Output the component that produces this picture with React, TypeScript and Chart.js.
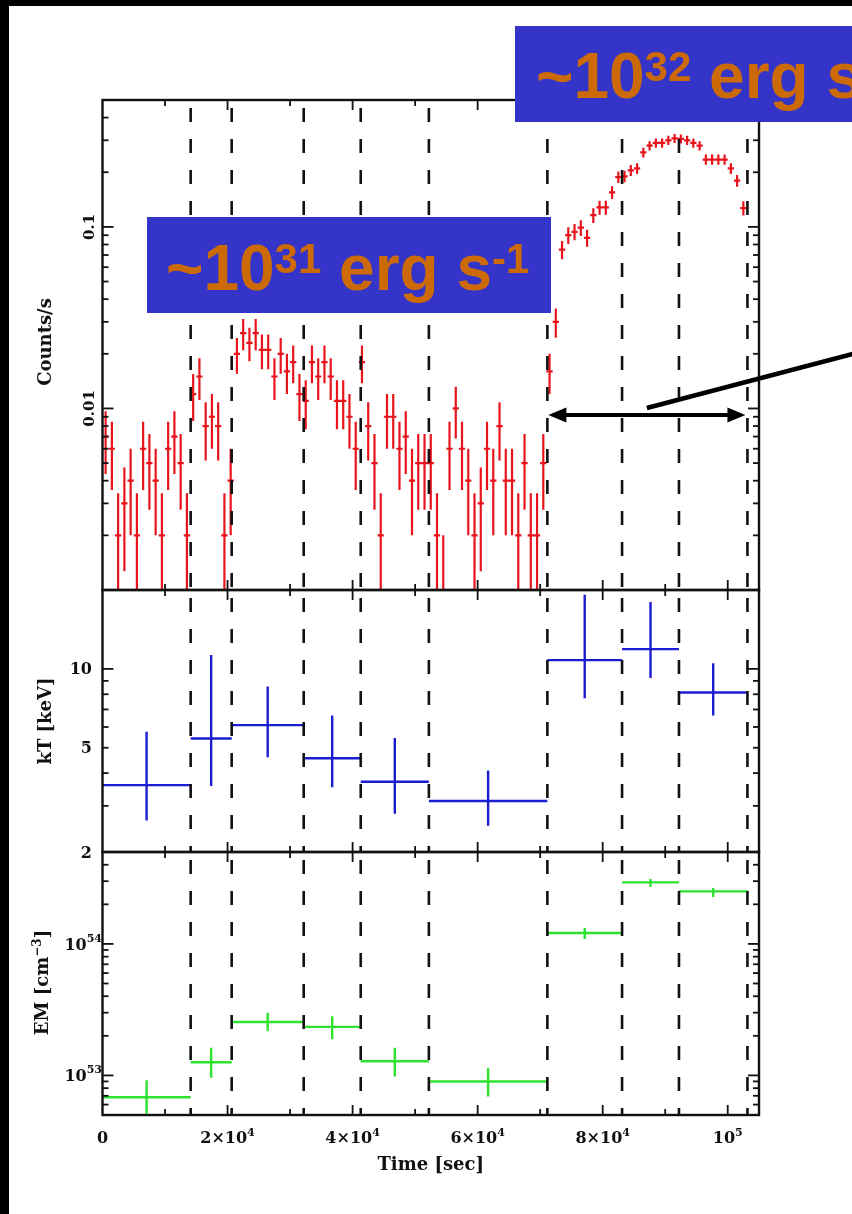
import React, { useEffect, useRef } from 'react';
import { Chart, registerables } from 'chart.js';

Chart.register(...registerables);

// ---------------- data ----------------
const binWidth = 1000; // s, light-curve bin
// counts per 1000 s bin (rate = counts / binWidth)
const lcCounts = [
  7, 6, 2, 3, 4, 2, 6, 5, 4, 2, 6, 7, 5, 2, 12, 15, 8, 9, 8, 2, 4,
  20, 26, 23, 26, 21, 21, 15, 20, 16, 18, 12, 11, 18, 15, 18,
  15, 11, 11, 9, 6, 18, 8, 5, 2, 9, 9, 6, 7, 4, 5, 5, 5, 2, 1, 6, 10, 6, 4, 2, 3, 6, 4, 8, 4, 4, 2, 5, 2, 2, 5, 16, 30,
  75, 90, 94, 99, 87, 116, 128, 128, 155, 188, 190, 205, 210, 257, 280, 290, 290, 300, 307, 305, 300, 290, 280,
  235, 235, 235, 235, 210, 180, 127,
];
// time-slice boundaries (s)
const sliceEdges = [0, 14100, 20660, 32180, 41300, 52200, 71150, 83100, 92200, 103150];
const kTValues = [3.6, 5.42, 6.1, 4.56, 3.71, 3.13, 10.8, 11.9, 8.13];
const kTLow = [2.64, 3.57, 4.6, 3.53, 2.8, 2.52, 7.73, 9.23, 6.64];
const kTHigh = [5.76, 11.3, 8.57, 6.64, 5.45, 4.09, 19.2, 18.0, 10.5];
const emValues = [6.83e52, 1.26e53, 2.55e53, 2.34e53, 1.28e53, 9.0e52, 1.21e54, 2.94e54, 2.51e54];
const emLow = [5.1e52, 9.6e52, 2.18e53, 1.88e53, 9.8e52, 6.9e52, 1.09e54, 2.71e54, 2.27e54];
const emHigh = [9.2e52, 1.62e53, 2.99e53, 2.82e53, 1.62e53, 1.14e53, 1.32e54, 3.12e54, 2.66e54];

const xRange = [0, 105000];
const lcRange = [0.001, 0.5];
const kTRange = [2, 20];
const emRange = [5e52, 5e54];

type Part = { t: string; sup?: boolean };
const xTickLabels: { v: number; parts: Part[] }[] = [
  { v: 0, parts: [{ t: '0' }] },
  { v: 20000, parts: [{ t: '2×10' }, { t: '4', sup: true }] },
  { v: 40000, parts: [{ t: '4×10' }, { t: '4', sup: true }] },
  { v: 60000, parts: [{ t: '6×10' }, { t: '4', sup: true }] },
  { v: 80000, parts: [{ t: '8×10' }, { t: '4', sup: true }] },
  { v: 100000, parts: [{ t: '10' }, { t: '5', sup: true }] },
];
const lcTickLabels = [
  { v: 0.1, t: '0.1' },
  { v: 0.01, t: '0.01' },
];
const kTTickLabels = [
  { v: 10, t: '10' },
  { v: 5, t: '5' },
  { v: 2, t: '2' },
];
const emTickLabels = [
  { v: 1e54, parts: [{ t: '10' }, { t: '54', sup: true }] as Part[] },
  { v: 1e53, parts: [{ t: '10' }, { t: '53', sup: true }] as Part[] },
];
const fluxLabelLow: Part[] = [{ t: '~10' }, { t: '31', sup: true }, { t: ' erg s' }, { t: '-1', sup: true }];
const fluxLabelHigh: Part[] = [{ t: '~10' }, { t: '32', sup: true }, { t: ' erg s' }, { t: '-1', sup: true }];
const arrowLevel = 0.0092; // counts/s level of the double arrow
const flareStartSlice = 6; // arrow spans sliceEdges[6] .. sliceEdges[9]

// ---------------- helpers ----------------
const SERIF = '"DejaVu Serif"';
const tickFont = `bold 16px ${SERIF}`;
const tickSupFont = `bold 11px ${SERIF}`;
const titleFont = `bold 18px ${SERIF}`;
const titleSupFont = `bold 12px ${SERIF}`;

function logTicks(min: number, max: number) {
  const out: { v: number; major: boolean }[] = [];
  for (let e = Math.floor(Math.log10(min)); e <= Math.ceil(Math.log10(max)); e++) {
    for (let m = 1; m <= 9; m++) {
      const v = m * Math.pow(10, e);
      if (v > min * 1.0001 && v < max * 0.9999) out.push({ v, major: m === 1 });
    }
  }
  return out;
}

function drawRich(
  ctx: CanvasRenderingContext2D,
  parts: Part[],
  x: number,
  y: number,
  font: string,
  supFont: string,
  rise: number,
  align: 'left' | 'center' | 'right'
) {
  ctx.textBaseline = 'alphabetic';
  ctx.textAlign = 'left';
  const widths = parts.map((p) => {
    ctx.font = p.sup ? supFont : font;
    return ctx.measureText(p.t).width;
  });
  const total = widths.reduce((a, b) => a + b, 0);
  let cx = align === 'left' ? x : align === 'center' ? x - total / 2 : x - total;
  parts.forEach((p, i) => {
    ctx.font = p.sup ? supFont : font;
    ctx.fillText(p.t, cx, p.sup ? y - rise : y);
    cx += widths[i];
  });
}

function rotatedRich(ctx: CanvasRenderingContext2D, parts: Part[], x: number, y: number, font: string, supFont: string, rise: number, baseOff: number) {
  ctx.save();
  ctx.translate(x, y);
  ctx.rotate(-Math.PI / 2);
  drawRich(ctx, parts, 0, baseOff, font, supFont, rise, 'center');
  ctx.restore();
}

function seg(ctx: CanvasRenderingContext2D, x1: number, y1: number, x2: number, y2: number) {
  ctx.beginPath();
  ctx.moveTo(x1, y1);
  ctx.lineTo(x2, y2);
  ctx.stroke();
}

function lcPoints() {
  const pts: { x: number; y: number | null }[] = [];
  lcCounts.forEach((n, i) => {
    const t0 = i * binWidth;
    const tc = t0 + binWidth / 2;
    const rate = n / binWidth;
    const err = Math.sqrt(n) / binWidth;
    pts.push({ x: t0, y: rate }, { x: t0 + binWidth, y: rate }, { x: tc, y: null });
    pts.push({ x: tc, y: Math.max(rate - err, 1e-5) }, { x: tc, y: rate + err }, { x: tc, y: null });
  });
  return pts;
}

function slicePoints(vals: number[], lo: number[], hi: number[]) {
  const pts: { x: number; y: number | null }[] = [];
  vals.forEach((v, i) => {
    const t0 = sliceEdges[i];
    const t1 = sliceEdges[i + 1];
    const tc = (t0 + t1) / 2;
    pts.push({ x: t0, y: v }, { x: t1, y: v }, { x: tc, y: null });
    pts.push({ x: tc, y: lo[i] }, { x: tc, y: hi[i] }, { x: tc, y: null });
  });
  return pts;
}

type PanelSpec = {
  points: { x: number; y: number | null }[];
  color: string;
  width: number;
  yRange: number[];
  padding: { left: number; right: number; top: number; bottom: number };
  labels: (chart: any) => void;
  overlay?: (chart: any) => void;
};

function makePanel(canvas: HTMLCanvasElement, spec: PanelSpec) {
  const yTicks = logTicks(spec.yRange[0], spec.yRange[1]);
  const panelPlugin = {
    id: 'panelDecor',
    afterDatasetsDraw(chart: any) {
      const { ctx, chartArea: a, scales } = chart;
      const xs = scales.x;
      const ys = scales.y;
      ctx.save();
      ctx.strokeStyle = '#111';
      // dashed slice boundaries
      ctx.lineWidth = 2.6;
      ctx.setLineDash([14, 17]);
      ctx.lineDashOffset = -8;
      sliceEdges.slice(1).forEach((t) => {
        const x = xs.getPixelForValue(t);
        seg(ctx, x, a.top, x, a.bottom);
      });
      ctx.setLineDash([]);
      // frame
      ctx.lineWidth = 2.4;
      ctx.strokeRect(a.left, a.top, a.right - a.left, a.bottom - a.top);
      // x ticks (inward, top and bottom)
      ctx.lineWidth = 1.8;
      for (let t = 10000; t < xRange[1]; t += 10000) {
        const x = xs.getPixelForValue(t);
        const len = t % 20000 === 0 ? 10 : 6;
        seg(ctx, x, a.top, x, a.top + len);
        seg(ctx, x, a.bottom, x, a.bottom - len);
      }
      // y ticks (inward, left and right)
      yTicks.forEach(({ v, major }) => {
        const y = ys.getPixelForValue(v);
        const len = major ? 11 : 6;
        seg(ctx, a.left, y, a.left + len, y);
        seg(ctx, a.right, y, a.right - len, y);
      });
      ctx.fillStyle = '#111';
      spec.labels(chart);
      ctx.restore();
    },
    afterDraw(chart: any) {
      if (spec.overlay) {
        chart.ctx.save();
        spec.overlay(chart);
        chart.ctx.restore();
      }
    },
  };
  return new Chart(canvas, {
    type: 'line',
    data: {
      datasets: [
        {
          data: spec.points as any,
          borderColor: spec.color,
          borderWidth: spec.width,
          pointRadius: 0,
          spanGaps: false,
          fill: false,
          tension: 0,
          borderCapStyle: 'butt',
        },
      ],
    },
    options: {
      animation: false,
      responsive: false,
      events: [],
      layout: { padding: spec.padding },
      scales: {
        x: { type: 'linear', min: xRange[0], max: xRange[1], display: false },
        y: { type: 'logarithmic', min: spec.yRange[0], max: spec.yRange[1], display: false },
      },
      plugins: { legend: { display: false }, tooltip: { enabled: false } },
    },
    plugins: [panelPlugin],
  });
}

const LEFT = 102.5;
const RIGHT_PAD = 852 - 759;

export default function App() {
  const refA = useRef<HTMLCanvasElement>(null);
  const refB = useRef<HTMLCanvasElement>(null);
  const refC = useRef<HTMLCanvasElement>(null);

  useEffect(() => {
    const charts: Chart[] = [];
    // ---- light curve ----
    charts.push(
      makePanel(refA.current!, {
        points: lcPoints(),
        color: '#e8141c',
        width: 2.2,
        yRange: lcRange,
        padding: { left: LEFT, right: RIGHT_PAD, top: 100, bottom: 10 },
        labels: (chart) => {
          const { ctx, scales, chartArea: a } = chart;
          lcTickLabels.forEach(({ v, t }) => {
            rotatedRich(ctx, [{ t }], 88, scales.y.getPixelForValue(v), `bold 15px ${SERIF}`, tickSupFont, 5, 5.5);
          });
          rotatedRich(ctx, [{ t: 'Counts/s' }], 45, (a.top + a.bottom) / 2 - 3, titleFont, titleSupFont, 7, 6);
        },
        overlay: (chart) => {
          const { ctx, scales } = chart;
          // double arrow across the flare interval
          const y = scales.y.getPixelForValue(arrowLevel);
          const x1 = scales.x.getPixelForValue(sliceEdges[flareStartSlice]) + 1;
          const x2 = scales.x.getPixelForValue(sliceEdges[sliceEdges.length - 1]) - 2;
          ctx.strokeStyle = '#000';
          ctx.fillStyle = '#000';
          ctx.lineWidth = 4;
          seg(ctx, x1 + 10, y, x2 - 10, y);
          const head = (tx: number, dir: number) => {
            ctx.beginPath();
            ctx.moveTo(tx, y);
            ctx.lineTo(tx + dir * 18, y - 7.5);
            ctx.lineTo(tx + dir * 18, y + 7.5);
            ctx.closePath();
            ctx.fill();
          };
          head(x1, 1);
          head(x2, -1);
          const mx = (x1 + x2) / 2;
          ctx.lineWidth = 4.5;
          seg(ctx, mx, y - 7, 860, y - 63);
          // luminosity boxes
          ctx.fillStyle = '#3434c8';
          ctx.fillRect(147, 217, 404, 96);
          ctx.fillRect(515, 26, 345, 96);
          ctx.fillStyle = '#cc6a08';
          drawRich(ctx, fluxLabelLow, 166, 290, 'bold 64px "Liberation Sans"', 'bold 42px "Liberation Sans"', 17, 'left');
          drawRich(ctx, fluxLabelHigh, 536, 98, 'bold 64px "Liberation Sans"', 'bold 42px "Liberation Sans"', 17, 'left');
        },
      })
    );
    // ---- kT ----
    charts.push(
      makePanel(refB.current!, {
        points: slicePoints(kTValues, kTLow, kTHigh),
        color: '#1c1cd2',
        width: 2.4,
        yRange: kTRange,
        padding: { left: LEFT, right: RIGHT_PAD, top: 10, bottom: 10 },
        labels: (chart) => {
          const { ctx, scales, chartArea: a } = chart;
          kTTickLabels.forEach(({ v, t }) => {
            drawRich(ctx, [{ t }], 92, scales.y.getPixelForValue(v) + 5.5, tickFont, tickSupFont, 5, 'right');
          });
          rotatedRich(ctx, [{ t: 'kT [keV]' }], 45, (a.top + a.bottom) / 2, titleFont, titleSupFont, 7, 6);
        },
      })
    );
    // ---- EM ----
    charts.push(
      makePanel(refC.current!, {
        points: slicePoints(emValues, emLow, emHigh),
        color: '#2ee22e',
        width: 2.4,
        yRange: emRange,
        padding: { left: LEFT, right: RIGHT_PAD, top: 10, bottom: 99 },
        labels: (chart) => {
          const { ctx, scales, chartArea: a } = chart;
          emTickLabels.forEach(({ v, parts }) => {
            drawRich(ctx, parts, 102, scales.y.getPixelForValue(v) + 6, tickFont, tickSupFont, 8, 'right');
          });
          rotatedRich(
            ctx,
            [{ t: 'EM [cm' }, { t: '−3', sup: true }, { t: ']' }],
            42,
            (a.top + a.bottom) / 2 - 1,
            titleFont,
            titleSupFont,
            7,
            6
          );
          xTickLabels.forEach(({ v, parts }) => {
            drawRich(ctx, parts, scales.x.getPixelForValue(v), a.bottom + 28, tickFont, tickSupFont, 7, 'center');
          });
          drawRich(ctx, [{ t: 'Time [sec]' }], (a.left + a.right) / 2, a.bottom + 55, titleFont, titleSupFont, 7, 'center');
        },
      })
    );
    return () => charts.forEach((c) => c.destroy());
  }, []);

  return (
    <div style={{ position: 'absolute', left: 0, top: 0, width: 852, height: 1214, background: '#fff', overflow: 'hidden' }}>
      <canvas ref={refA} width={852} height={600} style={{ position: 'absolute', left: 0, top: 0 }} />
      <canvas ref={refB} width={852} height={282} style={{ position: 'absolute', left: 0, top: 580 }} />
      <canvas ref={refC} width={852} height={372} style={{ position: 'absolute', left: 0, top: 842 }} />
      <div style={{ position: 'absolute', left: 0, top: 0, width: 852, height: 6, background: '#000' }} />
      <div style={{ position: 'absolute', left: 0, top: 0, width: 9, height: 1214, background: '#000' }} />
    </div>
  );
}
